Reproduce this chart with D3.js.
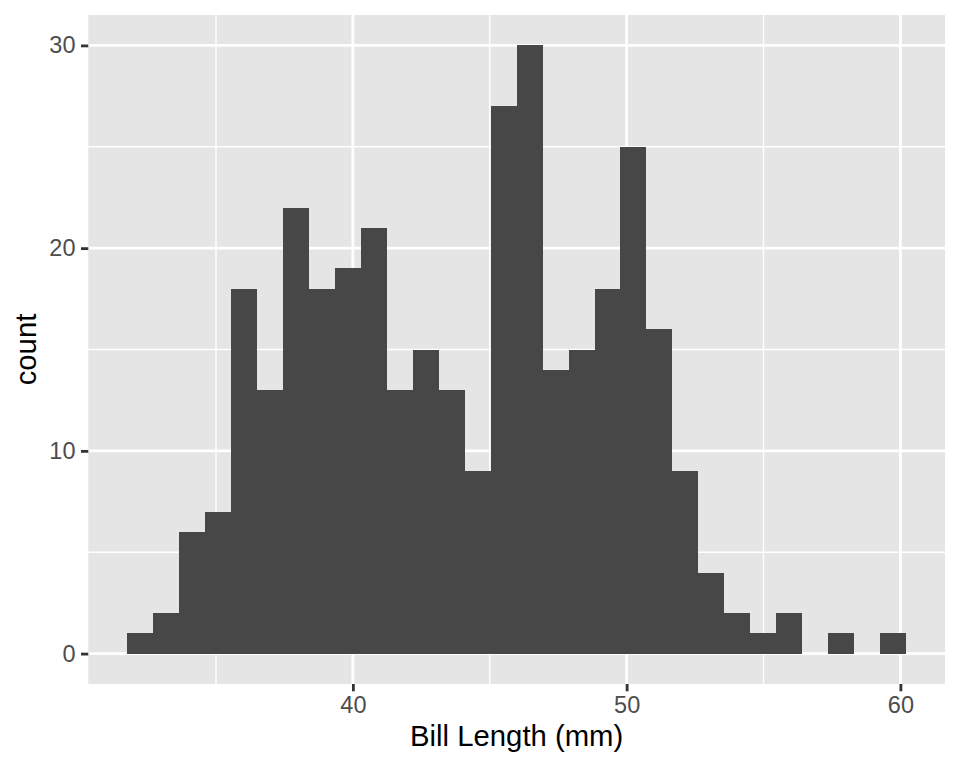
<!DOCTYPE html>
<html>
<head>
<meta charset="utf-8">
<script src="https://cdn.jsdelivr.net/npm/d3@7"></script>
<style>
  body { margin: 0; background: #fff; }
  text { font-family: "Liberation Sans", Arial, sans-serif; }
</style>
</head>
<body>
<svg id="chart" width="960" height="768"></svg>
<script>
// histogram of bill length, 30 bins
var binStart = 31.758;
var binWidth = 0.9483;
var counts = [1, 2, 6, 7, 18, 13, 22, 18, 19, 21, 13, 15, 13, 9, 27, 30, 14, 15, 18, 25, 16, 9, 4, 2, 1, 2, 0, 1, 0, 1];
var xMajor = [40, 50, 60];
var xMinor = [35, 45, 55];
var yMajor = [0, 10, 20, 30];
var yMinor = [5, 15, 25];
var xTitle = "Bill Length (mm)";
var yTitle = "count";

var svg = d3.select("#chart");
// panel edges (window.top is taken, so own names)
var pLeft = 88.3, pRight = 945, pTop = 15, pBottom = 684;

var bins = counts.map(function(c, i){
    return { x0: binStart + i * binWidth, x1: binStart + (i + 1) * binWidth, n: c };
});

var xLo = bins[0].x0, xHi = bins[bins.length - 1].x1;
var xPad = (xHi - xLo) * 0.05;
var x = d3.scaleLinear().domain([xLo - xPad, xHi + xPad]).range([pLeft, pRight]);
var yMax = d3.max(counts);
var y = d3.scaleLinear().domain([-yMax * 0.05, yMax * 1.05]).range([pBottom, pTop]);

// panel
svg.append("rect")
    .attr("x", pLeft).attr("y", pTop)
    .attr("width", pRight - pLeft).attr("height", pBottom - pTop)
    .attr("fill", "#E5E5E5");

var grid = svg.append("g");
grid.selectAll(".ymin").data(yMinor).enter().append("line")
    .attr("x1", pLeft).attr("x2", pRight)
    .attr("y1", function(d){ return y(d); }).attr("y2", function(d){ return y(d); })
    .attr("stroke", "#fff").attr("stroke-width", 1.4);
grid.selectAll(".xmin").data(xMinor).enter().append("line")
    .attr("y1", pTop).attr("y2", pBottom)
    .attr("x1", function(d){ return x(d); }).attr("x2", function(d){ return x(d); })
    .attr("stroke", "#fff").attr("stroke-width", 1.4);
grid.selectAll(".ymaj").data(yMajor).enter().append("line")
    .attr("x1", pLeft).attr("x2", pRight)
    .attr("y1", function(d){ return y(d); }).attr("y2", function(d){ return y(d); })
    .attr("stroke", "#fff").attr("stroke-width", 2.8);
grid.selectAll(".xmaj").data(xMajor).enter().append("line")
    .attr("y1", pTop).attr("y2", pBottom)
    .attr("x1", function(d){ return x(d); }).attr("x2", function(d){ return x(d); })
    .attr("stroke", "#fff").attr("stroke-width", 2.8);

// bars - crisp edges so neighbours don't show a seam
svg.append("g").attr("shape-rendering", "crispEdges")
    .selectAll("rect").data(bins).enter().append("rect")
    .attr("x", function(d){ return x(d.x0); })
    .attr("width", function(d){ return x(d.x1) - x(d.x0); })
    .attr("y", function(d){ return y(d.n); })
    .attr("height", function(d){ return y(0) - y(d.n); })
    .attr("fill", "#474747");

// axes
var xAxis = d3.axisBottom(x).tickValues(xMajor).tickSize(7.3).tickPadding(5.5).tickFormat(d3.format("d"));
var gx = svg.append("g").attr("transform", "translate(0," + pBottom + ")").call(xAxis);
gx.select(".domain").remove();
gx.selectAll(".tick line").attr("stroke", "#333").attr("stroke-width", 2.8);
gx.selectAll(".tick text").attr("fill", "#4D4D4D").style("font-size", "23.5px")
    .style("font-family", "'Liberation Sans', Arial, sans-serif");

var yAxis = d3.axisLeft(y).tickValues(yMajor).tickSize(7.3).tickPadding(5.5).tickFormat(d3.format("d"));
var gy = svg.append("g").attr("transform", "translate(" + pLeft + ",0)").call(yAxis);
gy.select(".domain").remove();
gy.selectAll(".tick line").attr("stroke", "#333").attr("stroke-width", 2.8);
gy.selectAll(".tick text").attr("fill", "#4D4D4D").style("font-size", "23.5px")
    .style("font-family", "'Liberation Sans', Arial, sans-serif");

// titles
svg.append("text")
    .attr("x", (pLeft + pRight) / 2).attr("y", 746)
    .attr("text-anchor", "middle")
    .style("font-size", "29.3px").attr("fill", "#000")
    .text(xTitle);

svg.append("text")
    .attr("transform", "translate(36," + (pTop + pBottom) / 2 + ") rotate(-90)")
    .attr("text-anchor", "middle")
    .style("font-size", "29.3px").attr("fill", "#000")
    .text(yTitle);
</script>
</body>
</html>
